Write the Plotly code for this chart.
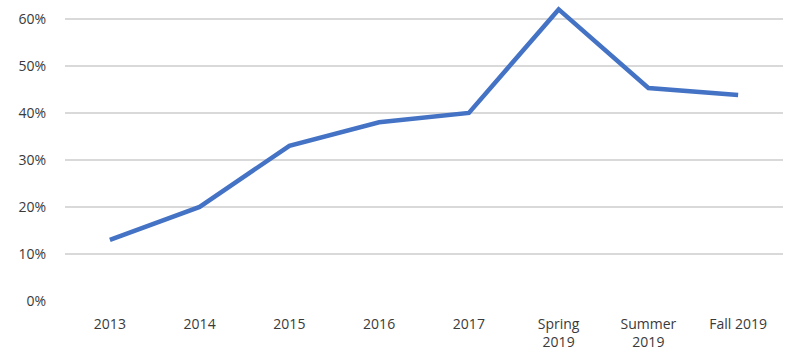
import plotly.graph_objects as go

categories = ["2013", "2014", "2015", "2016", "2017", "Spring<br>2019", "Summer<br>2019", "Fall 2019"]
values = [0.13, 0.20, 0.33, 0.38, 0.40, 0.62, 0.453, 0.438]
ytick_vals = [0, 0.1, 0.2, 0.3, 0.4, 0.5, 0.6]
ytick_text = ["0%", "10%", "20%", "30%", "40%", "50%", "60%"]

fig = go.Figure(go.Scatter(
    x=categories, y=values, mode="lines",
    line=dict(color="#4472C4", width=4.5),
    cliponaxis=False, hoverinfo="skip"))

fig.update_layout(
    width=794, height=354,
    margin=dict(l=65, r=11, t=0, b=53),
    paper_bgcolor="white", plot_bgcolor="white",
    showlegend=False,
    font=dict(family="Open Sans, Lato, sans-serif", size=14, color="#3a3a3a"),
)
fig.update_xaxes(
    type="category", range=[-0.5, 7.5], showgrid=False, zeroline=False, showline=False,
    ticks="", ticklabelstandoff=13, tickfont=dict(size=14, color="#3a3a3a"),
)
fig.update_yaxes(
    range=[0, 0.64], tickvals=ytick_vals, ticktext=ytick_text,
    showgrid=True, gridcolor="#D9D9D9", gridwidth=1.5,
    zeroline=False, showline=False, ticks="", ticklabelstandoff=18,
    tickfont=dict(size=14, color="#3a3a3a"),
)
fig.write_html("out.html")
